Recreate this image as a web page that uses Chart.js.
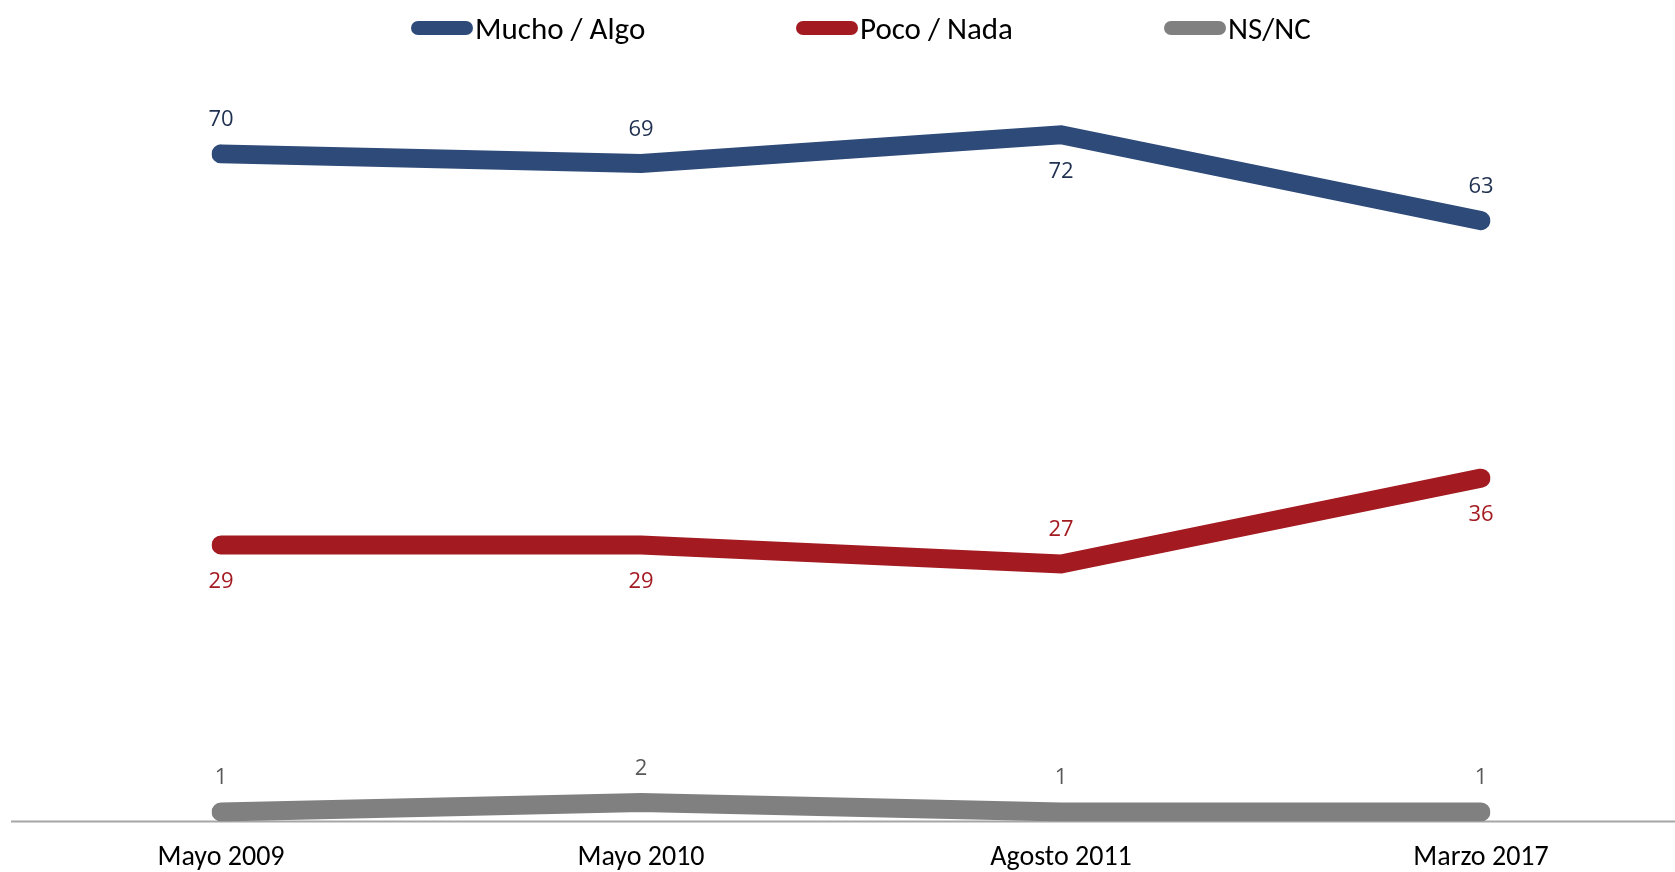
<!DOCTYPE html>
<html>
<head>
<meta charset="utf-8">
<script src="https://cdn.jsdelivr.net/npm/chart.js@4.4.1/dist/chart.umd.min.js"></script>
<style>
  html, body { margin: 0; padding: 0; background: #fff; }
  #wrap { position: relative; width: 1675px; height: 872px; }
  #legend { position: absolute; top: 0; left: 0; width: 1675px; height: 56px; font-family: Carlito, Lato, sans-serif; font-size: 31px; color: #000; }
  .item { position: absolute; top: 9px; display: flex; align-items: center; gap: 2px; height: 38px; white-space: nowrap; }
  .pill { display: inline-block; width: 62px; height: 14px; border-radius: 7px; }
</style>
</head>
<body>
<div id="wrap">
  <canvas id="myChart" width="1675" height="872"></canvas>
  <div id="legend"></div>
</div>
<script>
var categories = ["Mayo 2009", "Mayo 2010", "Agosto 2011", "Marzo 2017"];
var muchoAlgo = [70, 69, 72, 63];
var pocoNada = [29, 29, 27, 36];
var nsnc = [1, 2, 1, 1];
var seriesNames = ["Mucho / Algo", "Poco / Nada", "NS/NC"];

var lineColors = ["#2E4A78", "#A31A21", "#808080"];
var labelColors = ["#1F3050", "#A31A21", "#595959"];
var legendLeft = [411, 796, 1164];
// where each value label sits: -1 above the line, 1 below
var labelSide = [
  [-1, -1, 1, -1],
  [1, 1, -1, 1],
  [-1, -1, -1, -1]
];

// html legend
var leg = document.getElementById('legend');
seriesNames.forEach(function(n, i){
  var it = document.createElement('div');
  it.className = 'item';
  it.style.left = legendLeft[i] + 'px';
  it.innerHTML = '<span class="pill" style="background:' + lineColors[i] + '"></span><span>' + n + '</span>';
  leg.appendChild(it);
});

// baseline under the lines, running across the page
var baseLine = {
  id: 'baseLine',
  beforeDatasetsDraw: function(chart) {
    var ctx = chart.ctx;
    var y = chart.scales.y.getPixelForValue(0);
    ctx.save();
    ctx.strokeStyle = '#A6A6A6';
    ctx.lineWidth = 2;
    ctx.beginPath();
    ctx.moveTo(11, y);
    ctx.lineTo(1675, y);
    ctx.stroke();
    ctx.restore();
  }
};

// value labels
var valueLabels = {
  id: 'valueLabels',
  afterDatasetsDraw: function(chart) {
    var ctx = chart.ctx;
    ctx.save();
    ctx.font = '22px "Open Sans", sans-serif';
    ctx.textAlign = 'center';
    ctx.textBaseline = 'middle';
    chart.data.datasets.forEach(function(ds, i) {
      var meta = chart.getDatasetMeta(i);
      meta.data.forEach(function(pt, j) {
        ctx.fillStyle = labelColors[i];
        var dy = labelSide[i][j] < 0 ? -34 : 37;
        ctx.fillText(ds.data[j], pt.x, pt.y + dy);
      });
    });
    ctx.restore();
  }
};

function makeSet(label, data, i) {
  return {
    label: label,
    data: data,
    borderColor: lineColors[i],
    backgroundColor: lineColors[i],
    borderWidth: 19,
    borderCapStyle: 'round',
    borderJoinStyle: 'miter',
    pointRadius: 0,
    pointHoverRadius: 0,
    tension: 0,
    fill: false
  };
}

new Chart("myChart", {
  type: "line",
  data: {
    labels: categories,
    datasets: [
      makeSet(seriesNames[0], muchoAlgo, 0),
      makeSet(seriesNames[1], pocoNada, 1),
      makeSet(seriesNames[2], nsnc, 2)
    ]
  },
  options: {
    responsive: false,
    animation: false,
    layout: { padding: { left: 221, right: 194, top: 58.5, bottom: 0 } },
    plugins: { legend: { display: false }, tooltip: { enabled: false } },
    scales: {
      x: {
        offset: false,
        grid: { display: false, drawTicks: false },
        border: { display: false },
        afterFit: function(s) { s.height = 50.5; },
        ticks: {
          color: '#000',
          padding: 20,
          maxRotation: 0,
          autoSkip: false,
          font: { family: 'Carlito, Lato, sans-serif', size: 28, lineHeight: 1.2 }
        }
      },
      y: {
        display: false,
        min: 0,
        max: 80
      }
    }
  },
  plugins: [baseLine, valueLabels]
});
</script>
</body>
</html>
